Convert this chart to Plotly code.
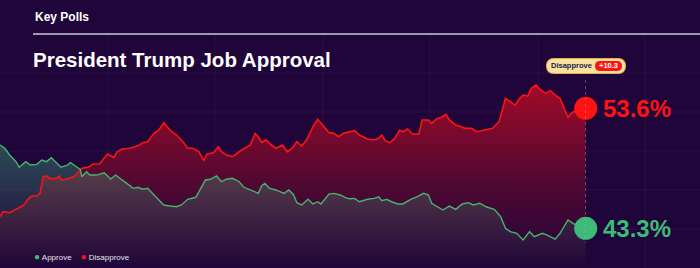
import plotly.graph_objects as go

# ---------------- data (days since 2025-01-20, value in %) ----------------
disapprove_days = [0, 2, 6, 10, 15, 18, 20, 23, 25, 27, 29, 31, 35, 37, 38, 42, 46, 49, 51, 55, 58, 62, 64, 67,
                   71, 73, 76, 81, 84, 87, 89, 92, 96, 99, 102, 104, 107, 110, 114, 117, 120, 124, 126, 127, 129,
                   133, 136, 138, 141, 145, 149, 153, 156, 159, 161, 163, 166, 169, 172, 176, 179, 182, 185, 188,
                   191, 195, 198, 201, 205, 208, 211, 214, 218, 221, 224, 229, 233, 236, 238, 240, 243, 246, 249,
                   251, 254, 257, 261, 263, 267, 269, 272, 275, 278, 280, 284, 287, 290, 294, 297, 300, 303, 307,
                   311, 313, 315, 318, 321, 323, 326, 329, 331, 334, 337, 340, 343, 346, 349, 352, 354, 356, 359,
                   362, 365]
disapprove_vals = [44.30, 44.72, 44.64, 44.96, 45.30, 45.90, 46.07, 46.07, 46.33, 47.73, 47.79, 47.56, 47.56,
                   47.79, 47.45, 47.53, 47.73, 48.16, 48.45, 48.54, 48.82, 48.82, 49.16, 49.68, 49.39, 49.87,
                   50.11, 50.17, 50.30, 50.45, 50.65, 50.73, 51.45, 51.74, 52.36, 52.02, 51.59, 51.31, 50.73,
                   50.17, 50.17, 49.87, 49.31, 49.10, 49.68, 49.79, 50.30, 49.87, 49.59, 49.45, 49.87, 50.17,
                   50.45, 51.45, 51.16, 50.68, 50.88, 50.45, 50.17, 50.45, 49.87, 50.17, 50.73, 50.36, 50.88,
                   52.02, 52.66, 52.17, 51.51, 51.45, 51.16, 51.45, 51.59, 51.68, 51.31, 50.96, 50.88, 51.02,
                   51.31, 50.82, 50.65, 51.02, 51.74, 51.59, 51.82, 51.39, 51.39, 52.60, 52.60, 52.31, 52.68,
                   52.83, 53.08, 52.60, 52.17, 52.02, 51.88, 51.88, 51.59, 51.68, 51.74, 51.88, 52.45, 53.45,
                   54.46, 54.17, 53.88, 54.31, 54.74, 54.66, 55.32, 55.60, 55.17, 54.89, 55.11, 54.74, 54.46,
                   53.45, 52.83, 53.17, 53.45, 53.60, 53.60]

approve_days = [0, 3, 6, 10, 12, 16, 19, 23, 26, 29, 32, 35, 38, 42, 44, 47, 50, 51, 54, 56, 60, 65, 69, 72,
                75, 79, 83, 86, 89, 92, 96, 99, 102, 106, 110, 113, 117, 122, 125, 128, 131, 135, 138, 141, 145,
                149, 152, 158, 161, 163, 165, 168, 172, 177, 180, 183, 185, 188, 192, 195, 198, 200, 205, 208,
                212, 215, 218, 221, 224, 229, 233, 236, 238, 241, 244, 248, 251, 256, 260, 264, 267, 269, 273,
                276, 280, 284, 288, 292, 295, 299, 303, 308, 312, 315, 318, 322, 326, 330, 333, 338, 341, 346,
                349, 352, 354, 357, 360, 365]
approve_vals = [50.45, 50.17, 49.59, 49.02, 48.54, 49.02, 48.73, 48.79, 49.16, 49.02, 49.36, 48.96, 48.54,
                48.73, 48.93, 48.65, 48.36, 47.73, 48.16, 47.87, 47.87, 48.07, 47.53, 47.87, 47.59, 47.16,
                46.73, 46.82, 46.65, 46.73, 46.16, 45.73, 45.30, 45.21, 45.15, 45.30, 45.79, 45.96, 46.73,
                47.45, 47.51, 47.79, 47.30, 47.51, 47.59, 47.30, 46.82, 46.44, 46.30, 46.93, 47.16, 46.73,
                46.59, 46.30, 46.59, 46.16, 45.50, 45.30, 45.79, 45.39, 45.58, 45.39, 46.24, 46.30, 46.16,
                45.96, 45.83, 45.87, 45.58, 45.79, 45.87, 46.01, 45.67, 45.79, 45.58, 45.39, 45.39, 45.79,
                46.01, 46.30, 46.16, 45.45, 45.15, 44.87, 45.21, 44.93, 45.39, 45.50, 45.30, 45.45, 45.15,
                44.93, 44.30, 43.30, 43.01, 42.87, 42.30, 43.01, 42.58, 42.87, 42.72, 42.36, 42.87, 43.58,
                44.01, 43.73, 43.50, 43.30]

series_names = ["Approve", "Disapprove"]
title_text = "President Trump Job Approval"
header_text = "Key Polls"

# ---------------- style ----------------
W, H = 700, 268
BG = "#1f053a"
RED = "#ff1212"
GREEN = "#3dbb78"
GREEN_LINE = "#45b46c"
FONT = "Liberation Sans, Arial"


def px(x):
    return x / W


def py(y):
    return 1 - y / H


def pill(x0, y0, x1, y1, r):
    pts = [
        ("M", (x0 + r, y0)), ("L", (x1 - r, y0)), ("Q", (x1, y0), (x1, y0 + r)),
        ("L", (x1, y1 - r)), ("Q", (x1, y1), (x1 - r, y1)), ("L", (x0 + r, y1)),
        ("Q", (x0, y1), (x0, y1 - r)), ("L", (x0, y0 + r)), ("Q", (x0, y0), (x0 + r, y0)),
    ]
    s = ""
    for p in pts:
        s += p[0] + " " + " ".join(f"{px(a):.5f},{py(b):.5f}" for a, b in p[1:]) + " "
    return s + "Z"


y_min, y_max = 39.89, 62.90
fig = go.Figure()

# fills
fig.add_trace(go.Scatter(
    x=disapprove_days, y=disapprove_vals, mode="lines", line=dict(width=0), fill="tozeroy",
    fillgradient=dict(type="vertical", start=y_min, stop=56.0,
                      colorscale=[[0, "rgba(31,5,58,1)"], [0.45, "rgba(80,8,50,1)"], [1, "rgba(165,10,40,1)"]]),
    hoverinfo="skip", showlegend=False))
fig.add_trace(go.Scatter(
    x=approve_days, y=approve_vals, mode="lines", line=dict(width=0), fill="tozeroy",
    fillgradient=dict(type="vertical", start=y_min, stop=51.0,
                      colorscale=[[0, "rgba(70,200,140,0.0)"], [1, "rgba(70,205,145,0.36)"]]),
    hoverinfo="skip", showlegend=False))
# lines
fig.add_trace(go.Scatter(x=disapprove_days, y=disapprove_vals, mode="lines",
                         line=dict(color=RED, width=1.6), hoverinfo="skip", showlegend=False))
fig.add_trace(go.Scatter(x=approve_days, y=approve_vals, mode="lines",
                         line=dict(color=GREEN_LINE, width=1.4), hoverinfo="skip", showlegend=False))
# end markers
fig.add_trace(go.Scatter(x=[disapprove_days[-1], approve_days[-1]], y=[disapprove_vals[-1], approve_vals[-1]],
                         mode="markers", marker=dict(size=23, color=[RED, GREEN]), cliponaxis=False,
                         hoverinfo="skip", showlegend=False))

shapes = []
# background grid
for gx in [108, 215, 323, 430, 538, 645]:
    shapes.append(dict(type="line", xref="paper", yref="paper", x0=px(gx), x1=px(gx), y0=py(35), y1=0,
                       line=dict(color="rgba(255,255,255,0.05)", width=1), layer="below"))
for gy in [73, 112, 151, 190, 229]:
    shapes.append(dict(type="line", xref="paper", yref="paper", x0=0, x1=1, y0=py(gy), y1=py(gy),
                       line=dict(color="rgba(255,255,255,0.05)", width=1), layer="below"))
# header rule
shapes.append(dict(type="line", xref="paper", yref="paper", x0=px(33), x1=1, y0=py(34), y1=py(34),
                   line=dict(color="#cfc8dc", width=1.5)))
# dotted current-value line
shapes.append(dict(type="line", xref="x", yref="paper", x0=disapprove_days[-1], x1=disapprove_days[-1],
                   y0=py(80), y1=py(243), line=dict(color="rgba(190,170,215,0.7)", width=1, dash="dot")))
# badge
shapes.append(dict(type="path", xref="paper", yref="paper", path=pill(546.5, 58.5, 625.5, 73.5, 7.5),
                   fillcolor="#f8e2a2", line=dict(color="#e2b04c", width=1)))
shapes.append(dict(type="path", xref="paper", yref="paper", path=pill(595, 61, 622, 71, 5),
                   fillcolor="#ff1414", line=dict(width=0)))

spread = disapprove_vals[-1] - approve_vals[-1]
annotations = [
    dict(text=f"<b>{header_text}</b>", x=px(33), y=py(17), xref="paper", yref="paper", xanchor="left",
         yanchor="middle", showarrow=False, font=dict(family=FONT, size=12, color="white")),
    dict(text=f"<b>{title_text}</b>", x=px(31), y=py(60), xref="paper", yref="paper", xanchor="left",
         yanchor="middle", showarrow=False, font=dict(family=FONT, size=20.5, color="white")),
    dict(text=f"<b>{series_names[1]}</b>", x=px(571.7), y=py(66), xref="paper", yref="paper", xanchor="center",
         yanchor="middle", showarrow=False, font=dict(family=FONT, size=7.5, color="#1d1a3e")),
    dict(text=f"<b>+{spread:.1f}</b>", x=px(608.5), y=py(66), xref="paper", yref="paper", xanchor="center",
         yanchor="middle", showarrow=False, font=dict(family=FONT, size=7.5, color="white")),
    dict(text=f"<b>{disapprove_vals[-1]:.1f}%</b>", x=disapprove_days[-1], y=disapprove_vals[-1], xref="x",
         yref="y", xanchor="left", yanchor="middle", xshift=15, showarrow=False,
         font=dict(family=FONT, size=24, color=RED)),
    dict(text=f"<b>{approve_vals[-1]:.1f}%</b>", x=approve_days[-1], y=approve_vals[-1], xref="x",
         yref="y", xanchor="left", yanchor="middle", xshift=15, showarrow=False,
         font=dict(family=FONT, size=24, color=GREEN)),
    dict(text=(f"<span style='color:{GREEN};font-size:10px'>●</span> {series_names[0]}    "
               f"<span style='color:{RED};font-size:10px'>●</span> {series_names[1]}"),
         x=px(32), y=py(256), xref="paper", yref="paper", xanchor="left", yanchor="middle", showarrow=False,
         font=dict(family=FONT, size=8, color="#e6e0ee")),
]

fig.update_layout(
    width=W, height=H, margin=dict(l=0, r=0, t=0, b=0),
    paper_bgcolor=BG, plot_bgcolor="rgba(0,0,0,0)",
    xaxis=dict(range=[0, 365], domain=[0, 585.7 / W], visible=False, fixedrange=True),
    yaxis=dict(range=[y_min, y_max], domain=[0, 1], visible=False, fixedrange=True),
    shapes=shapes, annotations=annotations, showlegend=False,
)

fig.write_html("out.html", config={"displayModeBar": False})
